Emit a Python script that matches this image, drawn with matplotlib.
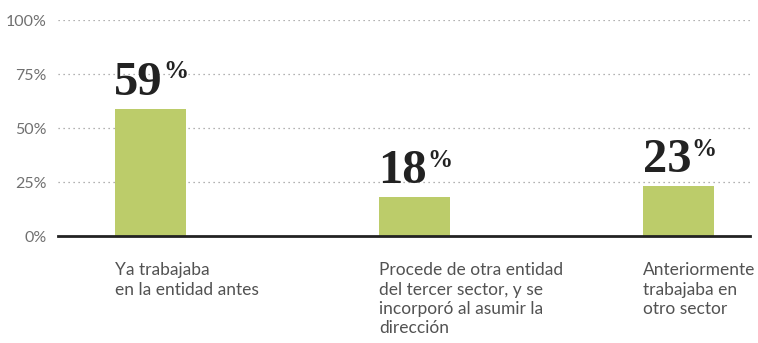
import matplotlib.pyplot as plt

categories = [
    "Ya trabajaba\nen la entidad antes",
    "Procede de otra entidad\ndel tercer sector, y se\nincorporó al asumir la\ndirección",
    "Anteriormente\ntrabajaba en\notro sector",
]
values = [59, 18, 23]
yticks = [0, 25, 50, 75, 100]
ytick_labels = ["0%", "25%", "50%", "75%", "100%"]

BAR_COLOR = "#bccc6a"
TEXT_GRAY = "#707070"

fig = plt.figure(figsize=(7.58, 3.43), dpi=100)
ax = fig.add_axes([58 / 758, 1 - 236 / 343, 692 / 758, 216 / 343])

x = list(range(len(values)))
bar_w = 0.27
ax.bar(x, values, width=bar_w, color=BAR_COLOR, zorder=2)

ax.set_xlim(-0.35, 2.27)
ax.set_ylim(0, 100)
ax.set_yticks(yticks)
ax.set_yticklabels(ytick_labels, family="Lato", fontsize=11.5, color=TEXT_GRAY)
ax.tick_params(axis="y", length=0, pad=8)
ax.set_xticks([])

for y in yticks[1:]:
    ax.axhline(y, color="#999999", linewidth=0.9, linestyle=(0, (1, 3)), zorder=1)
ax.axhline(0, color="#222222", linewidth=2.0, zorder=3, clip_on=False)

for s in ax.spines.values():
    s.set_visible(False)

# value labels: big serif number with a raised percent sign
for xi, v in zip(x, values):
    ax.annotate(f"{v}", (xi, v), xytext=(9, 10), textcoords="offset points",
                ha="right", va="baseline", family="Liberation Serif",
                fontweight="bold", fontsize=35, color="#222222")
    ax.annotate("%", (xi, v), xytext=(9, 22), textcoords="offset points",
                ha="left", va="baseline", family="Liberation Serif",
                fontweight="bold", fontsize=18, color="#222222")

# category captions, left-aligned with each bar
for xi, label in zip(x, categories):
    ax.annotate(label, (xi - bar_w / 2, 0), xytext=(0, -19),
                textcoords="offset points", ha="left", va="top",
                family="Lato", fontsize=12.5, color="#525252", linespacing=1.25,
                annotation_clip=False)

fig.savefig("out.png", dpi=100)
